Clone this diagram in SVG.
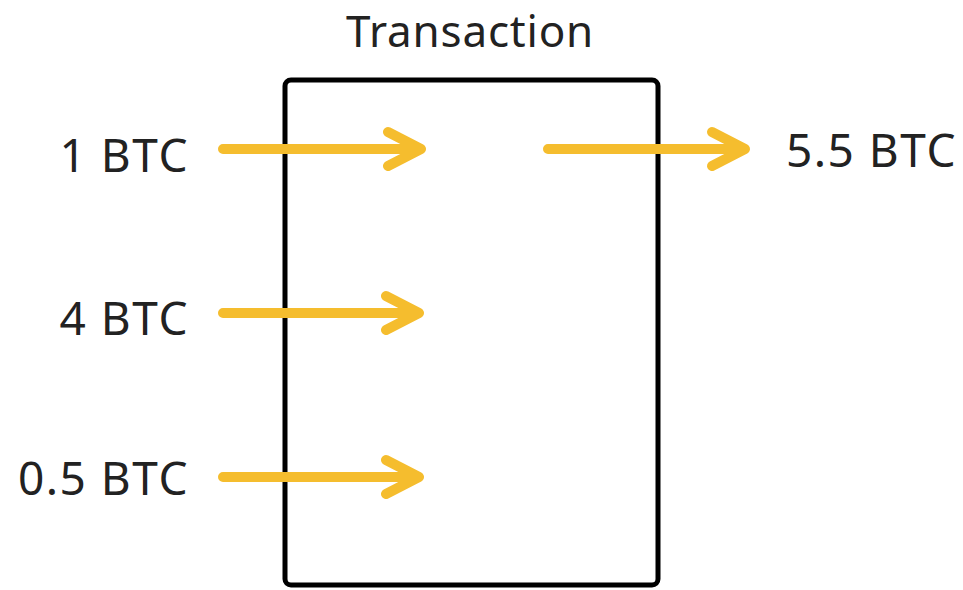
<svg xmlns="http://www.w3.org/2000/svg" width="963" height="590" viewBox="0 0 963 590">
  <style>
    .lbl { font-family: "Noto Sans", "Open Sans", "DejaVu Sans", sans-serif; font-size: 46px; fill: #222; }
    .title { font-size: 44px; letter-spacing: 0.8px; }
    .amt { letter-spacing: 1.5px; }
    .box { fill: #fff; stroke: #000; stroke-width: 5; }
    .arr { fill: none; stroke: #f5bd2e; stroke-width: 10; stroke-linecap: round; stroke-linejoin: round; }
  </style>
  <rect width="963" height="590" fill="#fff"/>

  <g id="transaction">
    <rect class="box" x="285" y="80" width="373" height="505" rx="6"/>
    <text class="lbl title" x="470" y="47" text-anchor="middle">Transaction</text>
  </g>

  <g id="in-1">
    <text class="lbl amt" x="189" y="172" text-anchor="end">1 BTC</text>
  </g>
  <g id="in-4">
    <text class="lbl amt" x="189" y="335" text-anchor="end">4 BTC</text>
  </g>
  <g id="in-05">
    <text class="lbl amt" x="189" y="495" text-anchor="end">0.5 BTC</text>
  </g>
  <g id="out-55">
    <text class="lbl amt" x="957" y="167" text-anchor="end">5.5 BTC</text>
  </g>

  <g id="connectors">
    <path class="arr" d="M223 149 H420 M388 132 L421 149 L388 166"/>
    <path class="arr" d="M223 313 H418 M386 296 L419 313 L386 330"/>
    <path class="arr" d="M223 477 H418 M386 460 L419 477 L386 494"/>
    <path class="arr" d="M548 149 H744 M712 132 L745 149 L712 166"/>
  </g>
</svg>
